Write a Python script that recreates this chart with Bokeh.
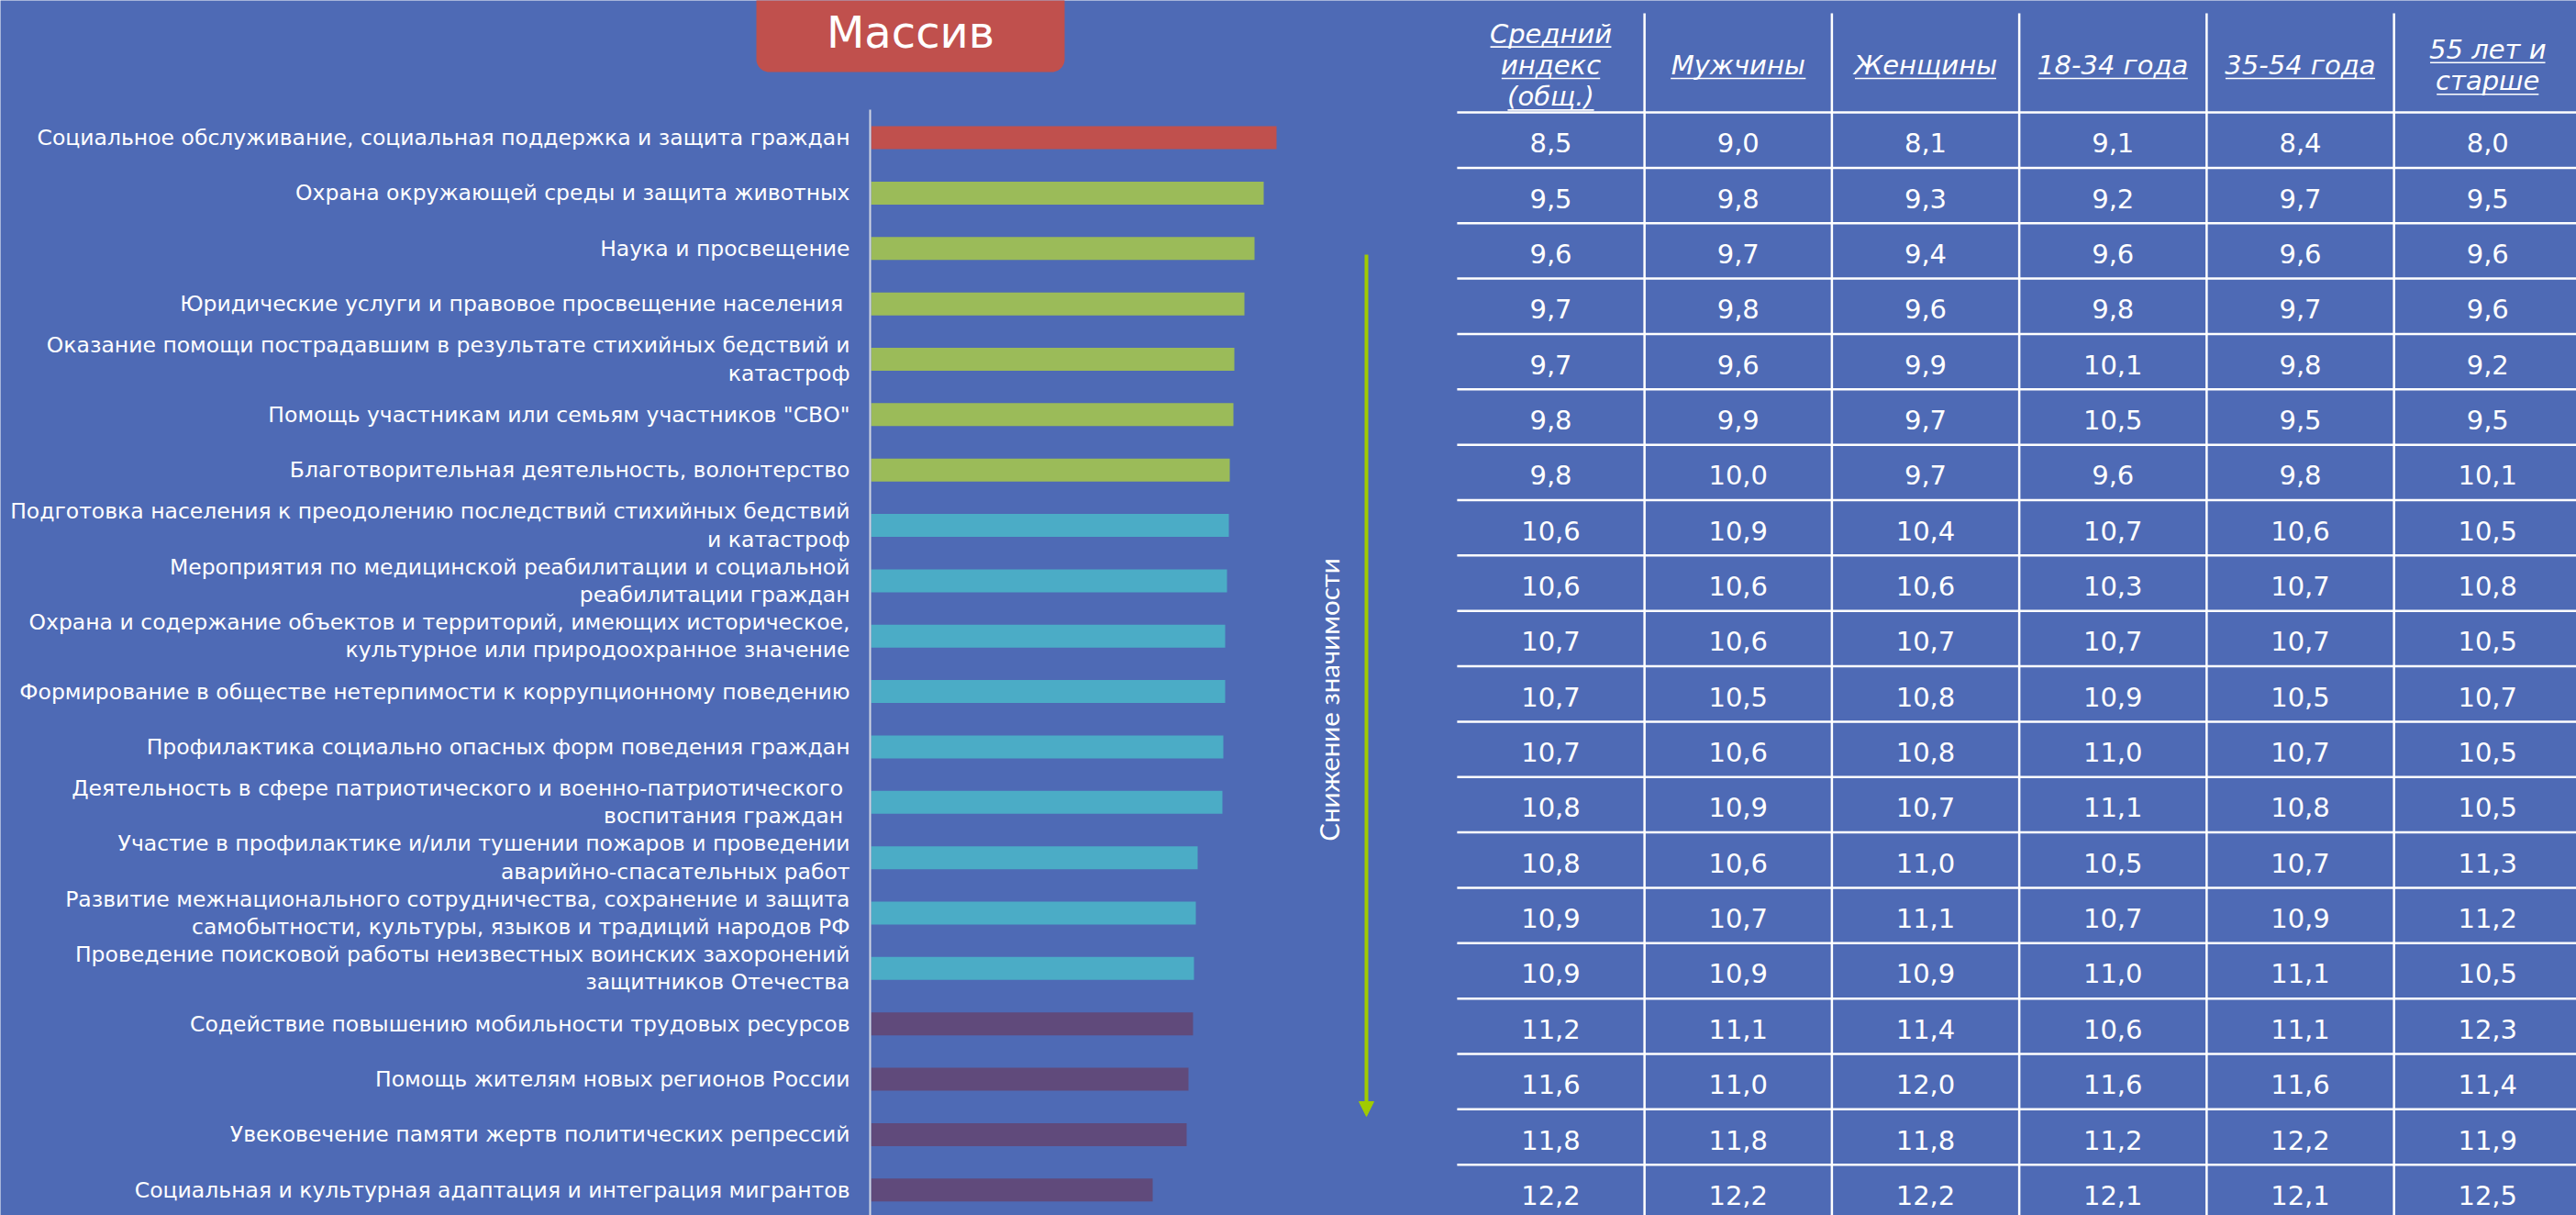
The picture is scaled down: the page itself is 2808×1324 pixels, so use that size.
import numpy as np
from bokeh.plotting import figure
from bokeh.models import Range1d, ColumnDataSource, Arrow, NormalHead
from bokeh.core.properties import value
from bokeh.embed import file_html
from bokeh.resources import INLINE

# ---------------- data ----------------
title_text = "Массив"
arrow_label = "Снижение значимости"

categories = [
    "Социальное обслуживание, социальная поддержка и защита граждан",
    "Охрана окружающей среды и защита животных",
    "Наука и просвещение",
    "Юридические услуги и  правовое просвещение населения",
    "Оказание помощи пострадавшим в результате стихийных бедствий и\nкатастроф",
    "Помощь участникам или семьям участников \"СВО\"",
    "Благотворительная деятельность, волонтерство",
    "Подготовка населения к преодолению последствий стихийных бедствий\nи катастроф",
    "Мероприятия по медицинской реабилитации и социальной\nреабилитации граждан",
    "Охрана и содержание объектов и территорий, имеющих историческое,\nкультурное или природоохранное значение",
    "Формирование в обществе нетерпимости к коррупционному поведению",
    "Профилактика социально опасных форм поведения граждан",
    "Деятельность в сфере патриотического и военно-патриотического \nвоспитания граждан ",
    "Участие в профилактике и/или тушении пожаров и проведении\nаварийно-спасательных работ",
    "Развитие межнационального сотрудничества, сохранение и защита\nсамобытности, культуры, языков и традиций народов РФ",
    "Проведение поисковой работы неизвестных воинских захоронений\nзащитников Отечества",
    "Содействие повышению мобильности трудовых ресурсов",
    "Помощь жителям новых регионов России",
    "Увековечение памяти жертв политических репрессий",
    "Социальная и культурная адаптация и интеграция мигрантов",
]

bar_values = [44.2, 42.8, 41.8, 40.7, 39.6, 39.5, 39.1, 39.0, 38.8, 38.6,
              38.6, 38.4, 38.3, 35.6, 35.4, 35.2, 35.1, 34.6, 34.4, 30.7]

bar_groups = ["top"] + ["high"] * 6 + ["mid"] * 9 + ["low"] * 4

table_columns = ["Средний\nиндекс\n(общ.)", "Мужчины", "Женщины",
                 "18-34 года", "35-54 года", "55 лет и\nстарше"]

avg_index = [8.5, 9.5, 9.6, 9.7, 9.7, 9.8, 9.8, 10.6, 10.6, 10.7,
             10.7, 10.7, 10.8, 10.8, 10.9, 10.9, 11.2, 11.6, 11.8, 12.2]
men = [9.0, 9.8, 9.7, 9.8, 9.6, 9.9, 10.0, 10.9, 10.6, 10.6,
       10.5, 10.6, 10.9, 10.6, 10.7, 10.9, 11.1, 11.0, 11.8, 12.2]
women = [8.1, 9.3, 9.4, 9.6, 9.9, 9.7, 9.7, 10.4, 10.6, 10.7,
         10.8, 10.8, 10.7, 11.0, 11.1, 10.9, 11.4, 12.0, 11.8, 12.2]
age_18_34 = [9.1, 9.2, 9.6, 9.8, 10.1, 10.5, 9.6, 10.7, 10.3, 10.7,
             10.9, 11.0, 11.1, 10.5, 10.7, 11.0, 10.6, 11.6, 11.2, 12.1]
age_35_54 = [8.4, 9.7, 9.6, 9.7, 9.8, 9.5, 9.8, 10.6, 10.7, 10.7,
             10.5, 10.7, 10.8, 10.7, 10.9, 11.1, 11.1, 11.6, 12.2, 12.1]
age_55_plus = [8.0, 9.5, 9.6, 9.6, 9.2, 9.5, 10.1, 10.5, 10.8, 10.5,
               10.7, 10.5, 10.5, 11.3, 11.2, 10.5, 12.3, 11.4, 11.9, 12.5]

table_data = [avg_index, men, women, age_18_34, age_35_54, age_55_plus]

# ---------------- style / layout ----------------
BG = "#4E6AB5"
WHITE = "#FFFFFF"
GROUP_COLORS = {"top": "#C0504D", "high": "#9BBB59", "mid": "#4BACC6", "low": "#604A7B"}
ARROW_COLOR = "#A0CB00"
AXIS_COLOR = "#D0D5E3"

W, H = 2808, 1324
ROW0 = 152.2      # px of first row centre
PITCH = 60.35     # px per row
BAR_ZERO = 949.0  # px of bar baseline
BAR_SCALE = 10.0  # px per value unit
TBL_C0 = 1690.0   # px of first table column centre
TBL_PITCH = 204.25

def py(px):
    return (px - ROW0) / PITCH

def dy(px):
    return px / PITCH

def pxb(px):
    return (px - BAR_ZERO) / BAR_SCALE

# approximate DejaVu Sans advance widths (units / 2048) for underline lengths
ADV = {' ': 651, '(': 799, ')': 799, '.': 651, ',': 651, '-': 739,
       'С': 1430, 'М': 1767, 'Ж': 2087,
       'а': 1255, 'б': 1257, 'г': 1075, 'д': 1335, 'е': 1260, 'ж': 1870,
       'и': 1331, 'й': 1331, 'к': 1208, 'л': 1313, 'н': 1327, 'о': 1253,
       'р': 1300, 'с': 1126, 'т': 1053, 'у': 1212, 'ч': 1235, 'ш': 1858,
       'щ': 1889, 'ы': 1656, 'ь': 1208}
for d in "0123456789":
    ADV[d] = 1303

def text_width(s, size):
    return sum(ADV.get(c, 1250) for c in s) / 2048.0 * size

p = figure(width=W, height=H,
           x_range=Range1d(pxb(0), pxb(W)),
           y_range=Range1d(py(H), py(0)),
           output_backend="svg", toolbar_location=None,
           x_axis_location=None, y_axis_location=None,
           min_border=0, background_fill_color=BG, border_fill_color=BG,
           outline_line_color=None)
p.xgrid.visible = False
p.ygrid.visible = False
p.extra_x_ranges = {"tbl": Range1d((0 - TBL_C0) / TBL_PITCH, (W - TBL_C0) / TBL_PITCH)}

idx = np.arange(len(categories))

# ---------------- title box ----------------
x0, x1, ytop, ybot, r = 824.0, 1160.0, -20.0, 78.0, 14.0
bx = [x0, x1]
by = [ytop, ytop]
t = np.linspace(0, np.pi / 2, 14)
bx += list(x1 - r + r * np.cos(t)); by += list(ybot - r + r * np.sin(t))
t = np.linspace(np.pi / 2, np.pi, 14)
bx += list(x0 + r + r * np.cos(t)); by += list(ybot - r + r * np.sin(t))
p.patch([pxb(v) for v in bx], [py(v) for v in by], fill_color="#C0504D", line_color=None)
p.text(x=[pxb((x0 + x1) / 2)], y=[py(34)], text=[title_text], text_color=WHITE,
       text_font=value("DejaVu Sans"), text_font_size="48px",
       text_align="center", text_baseline="middle")

# ---------------- bars ----------------
bar_src = ColumnDataSource(dict(
    y=idx - dy(2.6), right=bar_values,
    color=[GROUP_COLORS[g] for g in bar_groups]))
p.hbar(y="y", left=0, right="right", height=dy(25), fill_color="color",
       line_color=None, source=bar_src)

# category axis line
p.segment(x0=[pxb(948)], y0=[py(119)], x1=[pxb(948)], y1=[py(H + 20)],
          line_color=AXIS_COLOR, line_width=2)

# category labels (right aligned, multi-line)
lx, ly, lt = [], [], []
LBL_SIZE = 23.5
for i, cat in enumerate(categories):
    lines = cat.split("\n")
    n = len(lines)
    for k, ln in enumerate(lines):
        mid = ROW0 + PITCH * i - 2.7 + (k - (n - 1) / 2) * 30.4
        lx.append(pxb(926))
        ly.append(py(mid))
        lt.append(ln)
p.text(x=lx, y=ly, text=lt, text_color=WHITE, text_font=value("DejaVu Sans"),
       text_font_size=f"{LBL_SIZE}px", text_align="right", text_baseline="middle")

# ---------------- arrow ----------------
ax = pxb(1489)
p.add_layout(Arrow(end=NormalHead(size=16, fill_color=ARROW_COLOR, line_color=ARROW_COLOR, line_width=1),
                   x_start=ax, y_start=py(277), x_end=ax, y_end=py(1216),
                   line_color=ARROW_COLOR, line_width=4))
p.text(x=[pxb(1448)], y=[py(762)], text=[arrow_label], angle=np.pi / 2,
       text_color=WHITE, text_font=value("Lato"), text_font_size="29.5px",
       text_align="center", text_baseline="middle")

# ---------------- table ----------------
ncol = len(table_columns)
nrow = len(categories)
# horizontal lines
p.segment(x0=[-0.5] * (nrow + 1), x1=[ncol + 0.5] * (nrow + 1),
          y0=list(np.arange(nrow + 1) - 0.5), y1=list(np.arange(nrow + 1) - 0.5),
          x_range_name="tbl", line_color=WHITE, line_width=2.5)
# vertical lines
p.segment(x0=list(np.arange(ncol - 1) + 0.5), x1=list(np.arange(ncol - 1) + 0.5),
          y0=[py(14)] * (ncol - 1), y1=[nrow + 1] * (ncol - 1),
          x_range_name="tbl", line_color=WHITE, line_width=2.5)

# header
HDR_SIZE = 29
hx, hy, ht = [], [], []
ux0, ux1, uy = [], [], []
for j, col in enumerate(table_columns):
    lines = col.split("\n")
    n = len(lines)
    for k, ln in enumerate(lines):
        base = 81 + (k - (n - 1) / 2) * 34.4
        hx.append(j); hy.append(py(base - 10.5)); ht.append(ln)
        half = text_width(ln, HDR_SIZE) / 2 / TBL_PITCH
        ux0.append(j - half); ux1.append(j + half); uy.append(py(base + 4))
p.text(x=hx, y=hy, text=ht, x_range_name="tbl", text_color=WHITE,
       text_font=value("DejaVu Sans"), text_font_style="italic",
       text_font_size=f"{HDR_SIZE}px", text_align="center", text_baseline="middle")
p.segment(x0=ux0, x1=ux1, y0=uy, y1=uy, x_range_name="tbl", line_color=WHITE, line_width=1.6)

# cells
cx, cy, ct = [], [], []
for j, colvals in enumerate(table_data):
    for i, v in enumerate(colvals):
        cx.append(j)
        cy.append(i + dy(3))
        ct.append(f"{v:.1f}".replace(".", ","))
p.text(x=cx, y=cy, text=ct, x_range_name="tbl", text_color=WHITE,
       text_font=value("DejaVu Sans"), text_font_size="29px",
       text_align="center", text_baseline="middle")

open("out.html", "w").write(file_html(p, INLINE))
